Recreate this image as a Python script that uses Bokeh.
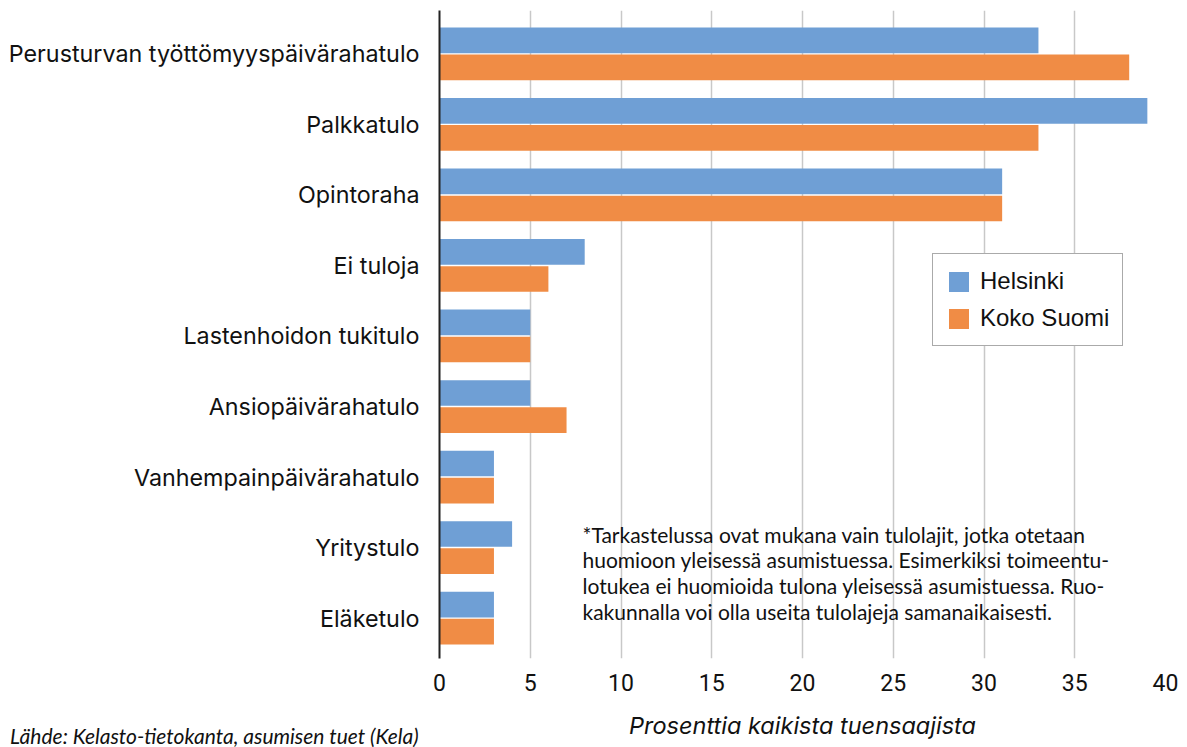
from bokeh.plotting import figure
from bokeh.models import Range1d, Label, Legend, LegendItem, FixedTicker, ColumnDataSource, Div
from bokeh.layouts import column
from bokeh.embed import file_html
from bokeh.resources import INLINE

categories = ["Perusturvan työttömyyspäivärahatulo", "Palkkatulo", "Opintoraha", "Ei tuloja",
              "Lastenhoidon tukitulo", "Ansiopäivärahatulo", "Vanhempainpäivärahatulo",
              "Yritystulo", "Eläketulo"]
helsinki = [33, 39, 31, 8, 5, 5, 3, 4, 3]
koko_suomi = [38, 33, 31, 6, 5, 7, 3, 3, 3]
x_ticks = [0, 5, 10, 15, 20, 25, 30, 35, 40]
note_lines = ["*Tarkastelussa ovat mukana vain tulolajit, jotka otetaan",
              "huomioon yleisessä asumistuessa. Esimerkiksi toimeentu-",
              "lotukea ei huomioida tulona yleisessä asumistuessa. Ruo-",
              "kakunnalla voi olla useita tulolajeja samanaikaisesti."]
source_text = "Lähde: Kelasto-tietokanta, asumisen tuet (Kela)"
x_title = "Prosenttia kaikista tuensaajista"

BLUE = "#6f9fd5"
ORANGE = "#f08c45"

n = len(categories)
ypos = [n - 1 - i for i in range(n)]
off = 0.192
hb = 0.364

Y0, Y1 = -0.573, 8.615
p = figure(width=1180, height=742, x_range=Range1d(0, 40), y_range=Range1d(Y0, Y1),
           output_backend="svg", toolbar_location=None,
           min_border_left=439, min_border_right=15, min_border_top=10, min_border_bottom=75)
p.outline_line_color = None

src_h = ColumnDataSource(dict(y=[v + off for v in ypos], right=helsinki))
src_k = ColumnDataSource(dict(y=[v - off for v in ypos], right=koko_suomi))
rh = p.hbar(y="y", right="right", left=0, height=hb, source=src_h, color=BLUE, line_color=None)
rk = p.hbar(y="y", right="right", left=0, height=hb, source=src_k, color=ORANGE, line_color=None)

# axes
p.xaxis.ticker = FixedTicker(ticks=x_ticks)
p.xaxis.axis_line_color = None
p.xaxis.major_tick_line_color = None
p.xaxis.minor_tick_line_color = None
p.xaxis.major_label_text_font = "Roboto"
p.xaxis.major_label_text_font_size = "23px"
p.xaxis.major_label_text_color = "#111111"
p.xaxis.major_label_standoff = 9
p.xaxis.axis_label = x_title
p.xaxis.axis_label_text_font = "Inter"
p.xaxis.axis_label_text_font_style = "italic"
p.xaxis.axis_label_text_font_size = "23.5px"
p.xaxis.axis_label_text_color = "#111111"
p.xaxis.axis_label_standoff = 17

p.yaxis.ticker = FixedTicker(ticks=ypos)
p.yaxis.major_label_overrides = {v: c for v, c in zip(ypos, categories)}
p.yaxis.major_tick_line_color = None
p.yaxis.minor_tick_line_color = None
p.yaxis.axis_line_color = "#222222"
p.yaxis.axis_line_width = 2
p.yaxis.major_label_text_font = "Inter"
p.yaxis.major_label_text_font_size = "23.3px"
p.yaxis.major_label_text_color = "#111111"
p.yaxis.major_label_standoff = 14

p.xgrid.grid_line_color = "#c8c8c8"
p.xgrid.grid_line_width = 1.5
p.ygrid.grid_line_color = None

legend = Legend(items=[LegendItem(label="Helsinki", renderers=[rh]),
                       LegendItem(label="Koko Suomi", renderers=[rk])],
                location=(493, 312), orientation="vertical")
legend.border_line_color = "#555555"
legend.border_line_width = 1.5
legend.background_fill_color = "white"
legend.background_fill_alpha = 1
legend.label_text_font = "Liberation Sans"
legend.label_text_font_size = "24px"
legend.label_text_color = "#111111"
legend.glyph_width = 25
legend.glyph_height = 25
legend.label_height = 25
legend.spacing = 9
legend.padding = 13
legend.margin = 0
legend.label_standoff = 9
p.add_layout(legend, "center")

# pixel helpers for annotations (page px -> data)
def dx(px):
    return (px - 439) / (1165 - 439) * 40

def dy(py):
    return Y1 - (py - 10) / (667 - 10) * (Y1 - Y0)

note_y = [541, 567, 593, 619]
for line, yy in zip(note_lines, note_y):
    p.add_layout(Label(x=dx(582), y=dy(yy), text=line, text_font="Lato",
                       text_font_size="21px", text_color="#111111", text_baseline="middle"))

source_div = Div(text=source_text, width=480, height=22, margin=(-17, 0, 0, 10),
                 styles={"font-family": "Lato", "font-style": "italic", "font-size": "21px",
                         "color": "#111111", "line-height": "22px", "white-space": "nowrap"})

layout = column(p, source_div, spacing=0)
open("out.html", "w").write(file_html(layout, INLINE))
